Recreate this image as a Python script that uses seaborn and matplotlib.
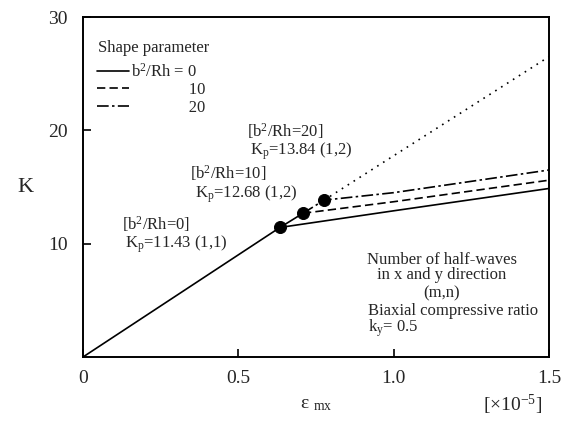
import matplotlib
matplotlib.use("Agg")
import matplotlib.pyplot as plt
import seaborn as sns
import pandas as pd

# ---- data ----
pre_x = [0.0, 0.634, 0.708]
pre_y = [0.0, 11.43, 12.68]
post0_x = [0.634, 1.0, 1.5]
post0_y = [11.43, 12.9, 14.87]
post10_x = [0.708, 1.0, 1.5]
post10_y = [12.68, 13.7, 15.6]
post20_x = [0.708, 0.776, 1.0, 1.5]
post20_y = [12.68, 13.84, 14.5, 16.5]
linear_x = [0.776, 1.5]
linear_y = [13.84, 26.5]
dot_x = [0.634, 0.708, 0.776]
dot_y = [11.43, 12.68, 13.84]
x_ticks = [0, 0.5, 1.0, 1.5]
x_ticklabels = ["0", "0.5", "1.0", "1.5"]
y_ticks = [10, 20, 30]
y_ticklabels = ["10", "20", "30"]
legend_labels = ["b$^{\\mathregular{2}}$/Rh = 0", "              10", "              20"]

sns.set_style("ticks")
plt.rcParams["font.family"] = ["Liberation Serif", "DejaVu Serif"]
plt.rcParams["mathtext.fontset"] = "custom"
plt.rcParams["mathtext.rm"] = "Liberation Serif"
plt.rcParams["mathtext.it"] = "Liberation Serif:italic"

fig = plt.figure(figsize=(5.66, 4.23), dpi=100)
ax = fig.add_axes([83/566, 1-357/423, (549-83)/566, (357-17)/423])

lw = 1.2
sns.lineplot(x=pre_x, y=pre_y, ax=ax, color="black", lw=lw, legend=False)
l0 = sns.lineplot(x=post0_x, y=post0_y, ax=ax, color="black", lw=lw, legend=False).lines[-1]
l10 = sns.lineplot(x=post10_x, y=post10_y, ax=ax, color="black", lw=lw, legend=False).lines[-1]
l10.set_linestyle((0, (5, 2.5)))
l20 = sns.lineplot(x=post20_x, y=post20_y, ax=ax, color="black", lw=lw, legend=False).lines[-1]
l20.set_linestyle((0, (7, 2, 1.5, 2)))
ll = sns.lineplot(x=linear_x, y=linear_y, ax=ax, color="black", lw=lw, legend=False).lines[-1]
ll.set_linestyle((0, (1, 3.2)))
sns.scatterplot(x=dot_x, y=dot_y, ax=ax, color="black", s=75, edgecolor="black", zorder=5, legend=False)

ax.set_xlim(0, 1.5)
ax.set_ylim(0, 30)
ax.set_xticks(x_ticks)
ax.set_xticklabels(x_ticklabels)
ax.set_yticks(y_ticks)
ax.set_yticklabels(y_ticklabels)
ax.tick_params(direction="in", length=6, width=1.2, labelsize=14, color="black")
ax.tick_params(axis="x", pad=9)
ax.tick_params(axis="y", pad=11)
for s in ax.spines.values():
    s.set_visible(True)
    s.set_linewidth(1.4)
    s.set_color("black")

ax.set_ylabel("K", fontsize=16, rotation=0, labelpad=16, va="center")
ax.set_xlabel("ε $_{\\mathregular{mx}}$", fontsize=14, labelpad=7)
ax.text(0.985, -0.14, "[×10$^{\\mathregular{-5}}$]", transform=ax.transAxes,
        ha="right", va="center", fontsize=14)

fs = 12
ax.text(0.528, 19.95, "[b$^{\\mathregular{2}}$/Rh=20]", fontsize=fs, va="center", ha="left")
ax.text(0.537, 18.2, "K$_{\\mathregular{p}}$=13.84 (1,2)", fontsize=fs, va="center", ha="left")
ax.text(0.344, 16.24, "[b$^{\\mathregular{2}}$/Rh=10]", fontsize=fs, va="center", ha="left")
ax.text(0.36, 14.4, "K$_{\\mathregular{p}}$=12.68 (1,2)", fontsize=fs, va="center", ha="left")
ax.text(0.126, 11.7, "[b$^{\\mathregular{2}}$/Rh=0]", fontsize=fs, va="center", ha="left")
ax.text(0.135, 9.95, "K$_{\\mathregular{p}}$=11.43 (1,1)", fontsize=fs, va="center", ha="left")

ax.text(1.155, 8.6, "Number of half-waves", fontsize=fs, ha="center", va="center")
ax.text(1.155, 7.2, "in x and y direction", fontsize=fs, ha="center", va="center")
ax.text(1.155, 5.65, "(m,n)", fontsize=fs, ha="center", va="center")
ax.text(0.918, 4.05, "Biaxial compressive ratio", fontsize=fs, ha="left", va="center")
ax.text(0.918, 2.55, "k$_{\\mathregular{y}}$= 0.5", fontsize=fs, ha="left", va="center")

ax.text(0.032, 0.909, "Shape parameter", transform=ax.transAxes, fontsize=fs,
        ha="left", va="center")
leg = ax.legend([l0, l10, l20], legend_labels,
                loc="upper left", bbox_to_anchor=(0.03, 0.866), frameon=False,
                fontsize=fs, handlelength=1.9, handletextpad=0.15, labelspacing=0.1,
                borderpad=0, borderaxespad=0)

fig.savefig("out.png", dpi=100)
